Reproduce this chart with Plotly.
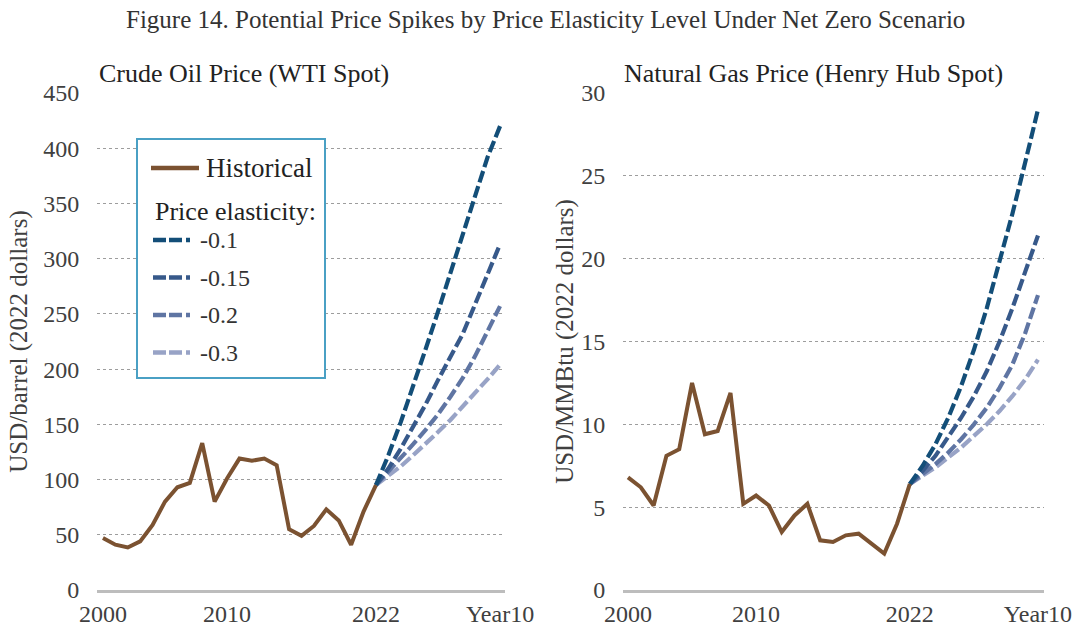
import plotly.graph_objects as go

W, H = 1082, 628
FONT = "Liberation Serif"

# ---- data -------------------------------------------------------------
hist_years = list(range(2000, 2023))
proj_years = list(range(2022, 2033))

x_tickvals = [2000, 2010, 2022, 2032]
x_ticktext = ["2000", "2010", "2022", "Year10"]

oil_hist = [47, 41, 38.5, 44, 59, 80, 93, 97, 133, 80, 101, 119, 117, 119, 113,
            55, 49, 58, 73, 63, 41, 71, 95]
gas_hist = [6.8, 6.2, 5.1, 8.1, 8.5, 12.5, 9.4, 9.6, 11.9, 5.2, 5.7, 5.1, 3.5,
            4.5, 5.2, 3.0, 2.9, 3.3, 3.4, 2.8, 2.2, 4.0, 6.4]

elasticities = ["-0.1", "-0.15", "-0.2", "-0.3"]

oil_e010 = [95, 122, 152, 184, 218, 252, 287, 322, 357, 392, 420]
oil_e015 = [95, 110, 128, 148, 168, 190, 211, 232, 259, 286, 313]
oil_e020 = [95, 107, 119, 132, 145, 159, 175, 192, 212, 234, 257]
oil_e030 = [95, 103, 112, 122, 132, 143, 154, 166, 178, 191, 204]

gas_e010 = [6.4, 7.5, 8.8, 10.4, 12.3, 14.5, 17.0, 19.8, 22.7, 25.8, 29.0]
gas_e015 = [6.4, 7.2, 8.1, 9.2, 10.4, 11.7, 13.2, 15.0, 17.0, 19.2, 21.4]
gas_e020 = [6.4, 7.0, 7.6, 8.3, 9.1, 10.0, 11.0, 12.2, 13.6, 15.5, 17.8]
gas_e030 = [6.4, 6.9, 7.4, 8.0, 8.6, 9.3, 10.0, 10.8, 11.7, 12.7, 13.9]

oil_proj = [oil_e010, oil_e015, oil_e020, oil_e030]
gas_proj = [gas_e010, gas_e015, gas_e020, gas_e030]

# ---- styles -----------------------------------------------------------
HIST_COLOR = "#7b5231"
PROJ_COLORS = ["#134e78", "#37598a", "#5f75a3", "#98a3c6"]
GRID = "#9d9d9d"
AXIS = "#bdbdbd"
TEXT = "#333333"


def px_x(p):
    return p / W


def px_y(p):
    return 1 - p / H


fig = go.Figure()

for xa, ya, hist, proj in [("x", "y", oil_hist, oil_proj),
                           ("x2", "y2", gas_hist, gas_proj)]:
    # projections are drawn from lightest to darkest so the darkest sits on top
    for name, vals, col in reversed(list(zip(elasticities, proj, PROJ_COLORS))):
        fig.add_trace(go.Scatter(
            x=proj_years, y=vals, mode="lines", name=name, showlegend=False,
            line=dict(color=col, width=4.2, dash="12px,4px"),
            xaxis=xa, yaxis=ya, hoverinfo="skip"))
    fig.add_trace(go.Scatter(
        x=hist_years, y=hist, mode="lines", name="Historical", showlegend=False,
        line=dict(color=HIST_COLOR, width=4), xaxis=xa, yaxis=ya,
        hoverinfo="skip"))

# ---- axes -------------------------------------------------------------
ydom = [px_y(590), px_y(93)]
common_x = dict(
    tickvals=x_tickvals, ticktext=x_ticktext, showgrid=False, zeroline=False,
    showline=True, linecolor=AXIS, linewidth=2.5, automargin=False,
    ticks="",
    tickfont=dict(family=FONT, size=24, color="#404040"))
common_y = dict(
    showgrid=True, gridcolor=GRID, gridwidth=1, griddash="dot", zeroline=False,
    showline=False, ticks="outside", ticklen=12, tickcolor="rgba(0,0,0,0)",
    automargin=False,
    tickfont=dict(family=FONT, size=24, color="#404040"), domain=ydom)

fig.update_layout(
    width=W, height=H, margin=dict(l=0, r=0, t=0, b=0),
    paper_bgcolor="white", plot_bgcolor="white", showlegend=False,
    xaxis=dict(common_x, domain=[px_x(97), px_x(505)],
               range=[1999.52, 2032.4], anchor="y"),
    yaxis=dict(common_y, range=[0, 450], tickvals=list(range(0, 451, 50)),
               anchor="x",
               title=dict(text="USD/barrel (2022 dollars)", standoff=8,
                          font=dict(family=FONT, size=25, color="#404040"))),
    xaxis2=dict(common_x, domain=[px_x(623), px_x(1044)],
                range=[1999.61, 2032.47], anchor="y2"),
    yaxis2=dict(common_y, range=[0, 30], tickvals=list(range(0, 31, 5)),
                anchor="x2",
                title=dict(text="USD/MMBtu (2022 dollars)", standoff=0,
                           font=dict(family=FONT, size=25, color="#404040"))),
)

annotations = [
    dict(text="Figure 14. Potential Price Spikes by Price Elasticity Level Under Net Zero Scenario",
         x=px_x(545), y=px_y(19), xanchor="center", yanchor="middle",
         font=dict(family=FONT, size=25, color=TEXT)),
    dict(text="Crude Oil Price (WTI Spot)", x=px_x(97), y=px_y(73),
         xanchor="left", yanchor="middle",
         font=dict(family=FONT, size=26, color="#222222")),
    dict(text="Natural Gas Price (Henry Hub Spot)", x=px_x(622), y=px_y(73),
         xanchor="left", yanchor="middle",
         font=dict(family=FONT, size=26, color="#222222")),
]

# ---- legend box (drawn by hand so the group heading sits inside it) ----
shapes = [
    dict(type="rect", xref="paper", yref="paper",
         x0=px_x(137), x1=px_x(325), y0=px_y(378), y1=px_y(139),
         line=dict(color="#4aa0c4", width=2), fillcolor="white", layer="above"),
    dict(type="line", xref="paper", yref="paper",
         x0=px_x(151), x1=px_x(199), y0=px_y(168), y1=px_y(168),
         line=dict(color=HIST_COLOR, width=4.5)),
]
annotations.append(dict(text="Historical", x=px_x(204), y=px_y(168),
                        xanchor="left", yanchor="middle",
                        font=dict(family=FONT, size=27, color="#222222")))
annotations.append(dict(text="Price elasticity:", x=px_x(153), y=px_y(212),
                        xanchor="left", yanchor="middle",
                        font=dict(family=FONT, size=26, color="#222222")))
for i, (name, col) in enumerate(zip(elasticities, PROJ_COLORS)):
    yy = px_y(240 + i * 37.5)
    shapes.append(dict(type="line", xref="paper", yref="paper",
                       x0=px_x(153), x1=px_x(194), y0=yy, y1=yy,
                       line=dict(color=col, width=4.5,
                                 dash="13px,3px,13px,4px,4px,20px")))
    annotations.append(dict(text=name, x=px_x(198), y=yy, xanchor="left",
                            yanchor="middle",
                            font=dict(family=FONT, size=24, color="#333333")))

for a in annotations:
    a.update(xref="paper", yref="paper", showarrow=False)

fig.update_layout(shapes=shapes, annotations=annotations)

fig.write_html("out.html")
